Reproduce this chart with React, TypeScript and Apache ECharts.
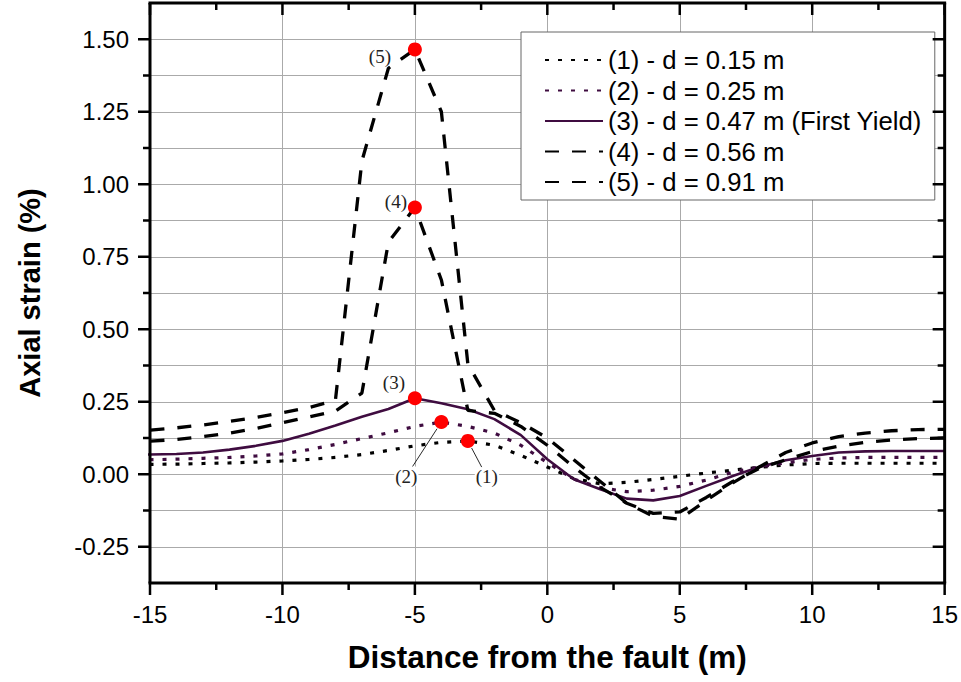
import React, { useEffect, useRef } from "react";
import * as echarts from "echarts";

// Distance from the fault (m)
const distances = [
  -16, -15, -14, -13, -12, -11, -10, -9, -8, -7, -6, -5, -4, -3, -2, -1,
  0, 1, 2, 3, 4, 5, 6, 7, 8, 9, 10, 11, 12, 13, 14, 15,
];

// Axial strain (%) per fault offset d
const strainD015 = [
  0.033, 0.034, 0.035, 0.037, 0.039, 0.042, 0.046, 0.051, 0.058, 0.068, 0.082, 0.098, 0.11, 0.115, 0.1, 0.065,
  0.025, -0.015, -0.033, -0.028, -0.018, -0.007, 0.004, 0.014, 0.024, 0.032, 0.037, 0.038, 0.038, 0.038, 0.038, 0.038,
];
const strainD025 = [
  0.05, 0.05, 0.052, 0.055, 0.058, 0.063, 0.07, 0.085, 0.103, 0.123, 0.143, 0.165, 0.18, 0.165, 0.142, 0.1,
  0.04, -0.017, -0.046, -0.06, -0.055, -0.042, -0.02, 0.007, 0.025, 0.04, 0.051, 0.056, 0.058, 0.058, 0.058, 0.058,
];
const strainD047 = [
  0.068, 0.068, 0.07, 0.075, 0.085, 0.098, 0.115, 0.14, 0.168, 0.198, 0.225, 0.262, 0.245, 0.224, 0.19, 0.135,
  0.052, -0.017, -0.052, -0.084, -0.09, -0.075, -0.04, -0.006, 0.025, 0.048, 0.063, 0.075, 0.079, 0.08, 0.08, 0.08,
];
const strainD056 = [
  0.11, 0.114, 0.12, 0.13, 0.142, 0.158, 0.178, 0.198, 0.218, 0.28, 0.8, 0.92, 0.67, 0.22, 0.21, 0.165,
  0.1, 0.025, -0.045, -0.1, -0.135, -0.13, -0.08, -0.025, 0.02, 0.05, 0.078, 0.097, 0.11, 0.118, 0.123, 0.125,
];
const strainD091 = [
  0.147, 0.152, 0.16, 0.17, 0.182, 0.196, 0.212, 0.23, 0.255, 1.08, 1.4, 1.465, 1.25, 0.38, 0.22, 0.178,
  0.125, 0.05, -0.025, -0.1, -0.145, -0.155, -0.09, -0.03, 0.025, 0.075, 0.108, 0.13, 0.142, 0.15, 0.154, 0.155,
];

const seriesNames = [
  "(1) - d = 0.15 m",
  "(2) - d = 0.25 m",
  "(3) - d = 0.47 m (First Yield)",
  "(4) - d = 0.56 m",
  "(5) - d = 0.91 m",
];
const peakTags = ["(1)", "(2)", "(3)", "(4)", "(5)"];

const X_MIN = -15;
const X_MAX = 15;
const Y_MIN = -0.375;
const Y_MAX = 1.625;
const xTicks = [-15, -10, -5, 0, 5, 10, 15];
const xMinorTicks = [-12.5, -7.5, -2.5, 2.5, 7.5, 12.5];
const yMajorTicks = [-0.25, 0, 0.25, 0.5, 0.75, 1.0, 1.25, 1.5];
const yMinorTicks = [-0.125, 0.125, 0.375, 0.625, 0.875, 1.125, 1.375];

const SANS = "Arial, 'Liberation Sans', Helvetica, sans-serif";
const SERIF = "'Times New Roman', 'Liberation Serif', serif";
const PURPLE = "#3f0c40";
const DASH = [14, 13];
const DOT = [4, 9];
const TICK_W = 2.5;
const MAJOR_LEN = 12;
const MINOR_LEN = 7;

// where each peak tag sits relative to its red marker, and whether a leader line joins them
const tagShift: number[][] = [
  [19, 36],
  [-35, 54],
  [-21, -16],
  [-19, -6],
  [-35, 7],
];
const tagLeader = [true, true, false, false, false];

const allStrains = [strainD015, strainD025, strainD047, strainD056, strainD091];

function peakOf(ys: number[]) {
  let best = 0;
  ys.forEach((v, i) => {
    if (v > ys[best]) best = i;
  });
  return [distances[best], ys[best]];
}

function buildOption() {
  const styles = [
    { color: "#000", type: DOT, width: 3.2 },
    { color: PURPLE, type: DOT, width: 3.2 },
    { color: PURPLE, type: "solid", width: 2.6 },
    { color: "#000", type: DASH, width: 3.3 },
    { color: "#000", type: DASH, width: 3.3 },
  ];

  const lineSeries = allStrains.map((ys, k) => ({
    type: "line",
    name: seriesNames[k],
    data: distances.map((x, i) => [x, ys[i]]),
    symbol: "circle",
    showSymbol: false,
    clip: false,
    color: styles[k].color,
    lineStyle: { color: styles[k].color, type: styles[k].type, width: styles[k].width },
  }));

  const gridLine = { show: true, lineStyle: { color: "#aaaaaa", width: 1 } };

  return {
    animation: false,
    grid: { left: 150, right: 16, top: 3, bottom: 99 },
    legend: {
      data: seriesNames,
      orient: "vertical",
      left: 521,
      top: 32,
      padding: [15, 13, 5, 23],
      itemWidth: 58,
      itemHeight: 14,
      itemGap: 4.5,
      backgroundColor: "#fff",
      borderColor: "#666",
      borderWidth: 1,
      itemStyle: { opacity: 0, borderWidth: 0 },
      textStyle: { fontFamily: SANS, fontSize: 25.7, color: "#000" },
    },
    xAxis: {
      type: "value",
      min: X_MIN,
      max: X_MAX,
      interval: 5,
      axisLine: { show: false, onZero: false },
      axisTick: { show: false },
      axisLabel: {
        fontFamily: SANS,
        fontSize: 24,
        color: "#000",
        margin: 19,
      },
      splitLine: gridLine,
      name: "Distance from the fault (m)",
      nameLocation: "middle",
      nameGap: 58,
      nameTextStyle: { fontFamily: SANS, fontSize: 31.5, fontWeight: "bold", color: "#000" },
    },
    yAxis: {
      type: "value",
      min: Y_MIN,
      max: Y_MAX,
      interval: 0.125,
      axisLine: { show: false, onZero: false },
      axisTick: { show: false },
      axisLabel: {
        fontFamily: SANS,
        fontSize: 24,
        color: "#000",
        margin: 21,
        customValues: yMajorTicks,
        formatter: (v: number) => v.toFixed(2),
      },
      splitLine: gridLine,
      name: "Axial strain (%)",
      nameLocation: "middle",
      nameGap: 106,
      nameTextStyle: { fontFamily: SANS, fontSize: 29, fontWeight: "bold", color: "#000" },
    },
    series: lineSeries,
  };
}

// Frame, ticks and peak markers, all placed through the chart's own axis conversion.
function buildOverlay(chart: echarts.ECharts) {
  const px = (x: number, y: number) => chart.convertToPixel({ gridIndex: 0 }, [x, y]) as number[];
  const L = px(X_MIN, 0)[0];
  const R = px(X_MAX, 0)[0];
  const T = px(0, Y_MAX)[1];
  const B = px(0, Y_MIN)[1];
  const elements: any[] = [];
  const seg = (x1: number, y1: number, x2: number, y2: number, width = TICK_W, color = "#000") =>
    elements.push({
      type: "line",
      silent: true,
      z: 100,
      shape: { x1, y1, x2, y2 },
      style: { stroke: color, lineWidth: width },
    });

  const addX = (vals: number[], len: number) =>
    vals.forEach((v) => {
      const x = px(v, 0)[0];
      seg(x, B, x, B + len);
      seg(x, T, x, T + len);
    });
  const addY = (vals: number[], len: number) =>
    vals.forEach((v) => {
      const y = px(0, v)[1];
      seg(L, y, L - len, y);
      seg(R, y, R - len, y);
    });
  addX(xTicks, MAJOR_LEN);
  addX(xMinorTicks, MINOR_LEN);
  addY(yMajorTicks, MAJOR_LEN);
  addY(yMinorTicks, MINOR_LEN);
  seg(L, T, L, B, 3);
  seg(R, T, R, B, 3);
  seg(L - 1.5, T, R + 1.5, T, 3);
  seg(L - 1.5, B, R + 1.5, B, 3);

  allStrains.forEach((ys, k) => {
    const [x, y] = peakOf(ys);
    const c = px(x, y);
    const [dx, dy] = tagShift[k];
    const tx = c[0] + dx;
    const ty = c[1] + dy;
    if (tagLeader[k]) {
      const d = Math.hypot(dx, dy);
      const ux = dx / d;
      const uy = dy / d;
      seg(c[0] + ux * 8, c[1] + uy * 8, tx - ux * 11, ty - uy * 11, 0.9, "#111");
    }
    elements.push({
      type: "text",
      silent: true,
      z: 102,
      x: tx,
      y: ty,
      style: {
        text: peakTags[k],
        fontFamily: SERIF,
        fontSize: 19,
        fill: "#222",
        align: "center",
        verticalAlign: "middle",
        backgroundColor: "#fff",
        padding: [0, 1],
      },
    });
    elements.push({
      type: "circle",
      silent: true,
      z: 103,
      shape: { cx: c[0], cy: c[1], r: 7 },
      style: { fill: "#ff0000" },
    });
  });
  return elements;
}

export default function App() {
  const ref = useRef<HTMLDivElement>(null);
  useEffect(() => {
    const chart = echarts.init(ref.current!, null, { renderer: "svg" });
    chart.setOption(buildOption() as any);
    chart.setOption({ graphic: { elements: buildOverlay(chart) } } as any);
    return () => chart.dispose();
  }, []);
  return (
    <div
      ref={ref}
      style={{ position: "fixed", left: 0, top: 0, width: 961, height: 682, background: "#fff" }}
    />
  );
}
